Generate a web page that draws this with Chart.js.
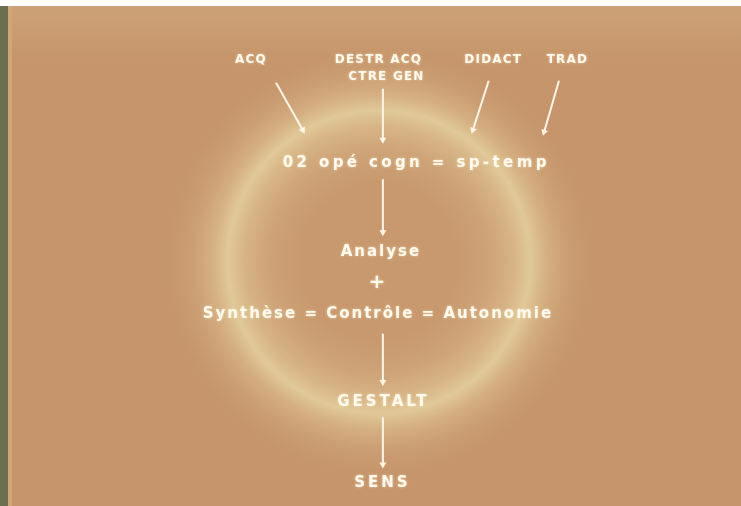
<!DOCTYPE html>
<html>
<head>
<meta charset="utf-8">
<script src="https://cdn.jsdelivr.net/npm/chart.js@4"></script>
<style>
  html, body { margin: 0; padding: 0; background: #ffffff; }
  #wrap { width: 741px; height: 506px; position: relative; }
</style>
</head>
<body>
<div id="wrap"><canvas id="schema"></canvas></div>
<script>
// Libellés du schéma et leur place (unités du repère 741 x 506)
var nodeLabels = ['ACQ', 'DESTR ACQ', 'CTRE GEN', 'DIDACT', 'TRAD',
  '02 opé cogn = sp-temp', 'Analyse', '+', 'Synthèse = Contrôle = Autonomie', 'GESTALT', 'SENS'];
var nodeX = [249, 378, 386, 494, 569, 415, 380, 377, 377, 382, 381];
var nodeY = [57, 57, 74, 57, 57, 162, 252, 283, 315, 404, 487];
// niveau : 0 = étiquette du haut, 1 = étape, 2 = signe, 3 = étape en capitales, 4 = opération
var nodeLevel = [0, 0, 0, 0, 0, 4, 1, 2, 1, 3, 3];

// Flèches : départ -> arrivée
var arrowFromX = [275, 383, 490, 561, 383, 383, 383];
var arrowFromY = [80, 86, 78, 78, 178, 335, 420];
var arrowToX = [302, 383, 474, 546, 383, 383, 383];
var arrowToY = [128, 138, 128, 130, 232, 384, 468];

// Anneau lumineux
var ringX = 379;
var ringY = 262;
var ringR = 153;

// Styles des textes par niveau
var textStyles = [
  { size: 12, spacing: 1.2 },
  { size: 15, spacing: 2 },
  { size: 20, spacing: 0 },
  { size: 15, spacing: 3 },
  { size: 15, spacing: 3.4 }
];

var ctx = document.getElementById('schema').getContext('2d');

var datasets = arrowFromX.map(function (x0, i) {
  var dx = arrowToX[i] - x0;
  var dy = arrowToY[i] - arrowFromY[i];
  var angle = Math.atan2(dx, -dy) * 180 / Math.PI;
  return {
    type: 'line',
    data: [{ x: x0, y: arrowFromY[i] }, { x: arrowToX[i], y: arrowToY[i] }],
    borderColor: '#fff5e6',
    backgroundColor: '#fff5e6',
    borderWidth: 2,
    pointRadius: [0, 4],
    pointStyle: 'triangle',
    rotation: angle,
    pointBorderWidth: 0,
    fill: false
  };
});

var fondPlugin = {
  id: 'fond',
  beforeDraw: function (chart) {
    var c = chart.ctx;
    var w = chart.width, h = chart.height;
    var sx = chart.scales.x, sy = chart.scales.y;
    c.save();
    c.fillStyle = '#c6956b';
    c.fillRect(0, 0, w, h);
    // haut légèrement plus clair
    var g = c.createLinearGradient(0, 6, 0, 60);
    g.addColorStop(0, 'rgba(222,190,145,0.3)');
    g.addColorStop(1, 'rgba(222,190,145,0)');
    c.fillStyle = g;
    c.fillRect(0, 6, w, 54);
    // anneau
    var cx = sx.getPixelForValue(ringX);
    var cy = sy.getPixelForValue(ringY);
    var r = Math.abs(sx.getPixelForValue(ringX + ringR) - cx);
    var inner = r - 75, outer = r + 60;
    var rg = c.createRadialGradient(cx, cy, inner, cx, cy, outer);
    var p = (r - inner) / (outer - inner);
    rg.addColorStop(0, 'rgba(225,195,145,0.08)');
    rg.addColorStop(p - 0.3, 'rgba(228,205,155,0.25)');
    rg.addColorStop(p - 0.12, 'rgba(232,212,160,0.5)');
    rg.addColorStop(p, 'rgba(234,218,168,0.75)');
    rg.addColorStop(p + 0.12, 'rgba(232,212,160,0.42)');
    rg.addColorStop(p + 0.28, 'rgba(228,205,155,0.15)');
    rg.addColorStop(1, 'rgba(225,195,145,0)');
    c.fillStyle = rg;
    c.beginPath();
    c.arc(cx, cy, outer, 0, Math.PI * 2);
    c.fill();
    // bandes
    c.fillStyle = '#ffffff';
    c.fillRect(0, 0, w, 6);
    c.fillStyle = '#6c6f4f';
    c.fillRect(0, 6, 8, h - 6);
    c.fillStyle = '#d2a47a';
    c.fillRect(8, 6, 4, h - 6);
    c.restore();
  }
};

var textePlugin = {
  id: 'texte',
  afterDatasetsDraw: function (chart) {
    var c = chart.ctx;
    var sx = chart.scales.x, sy = chart.scales.y;
    c.save();
    c.textAlign = 'center';
    c.textBaseline = 'middle';
    c.fillStyle = '#fff9ee';
    c.shadowColor = 'rgba(255,240,205,0.6)';
    c.shadowBlur = 3;
    nodeLabels.forEach(function (t, i) {
      var st = textStyles[nodeLevel[i]];
      c.font = 'bold ' + st.size + 'px "DejaVu Sans", sans-serif';
      c.letterSpacing = st.spacing + 'px';
      c.fillText(t, sx.getPixelForValue(nodeX[i]) + st.spacing / 2, sy.getPixelForValue(nodeY[i]));
    });
    c.restore();
  }
};

var schema = new Chart(ctx, {
  type: 'scatter',
  data: { datasets: datasets },
  options: {
    responsive: true,
    maintainAspectRatio: false,
    animation: false,
    layout: { padding: 0 },
    plugins: { legend: { display: false }, tooltip: { enabled: false } },
    scales: {
      x: { type: 'linear', min: 0, max: 741, display: false },
      y: { type: 'linear', min: 0, max: 506, reverse: true, display: false }
    }
  },
  plugins: [fondPlugin, textePlugin]
});
</script>
</body>
</html>
